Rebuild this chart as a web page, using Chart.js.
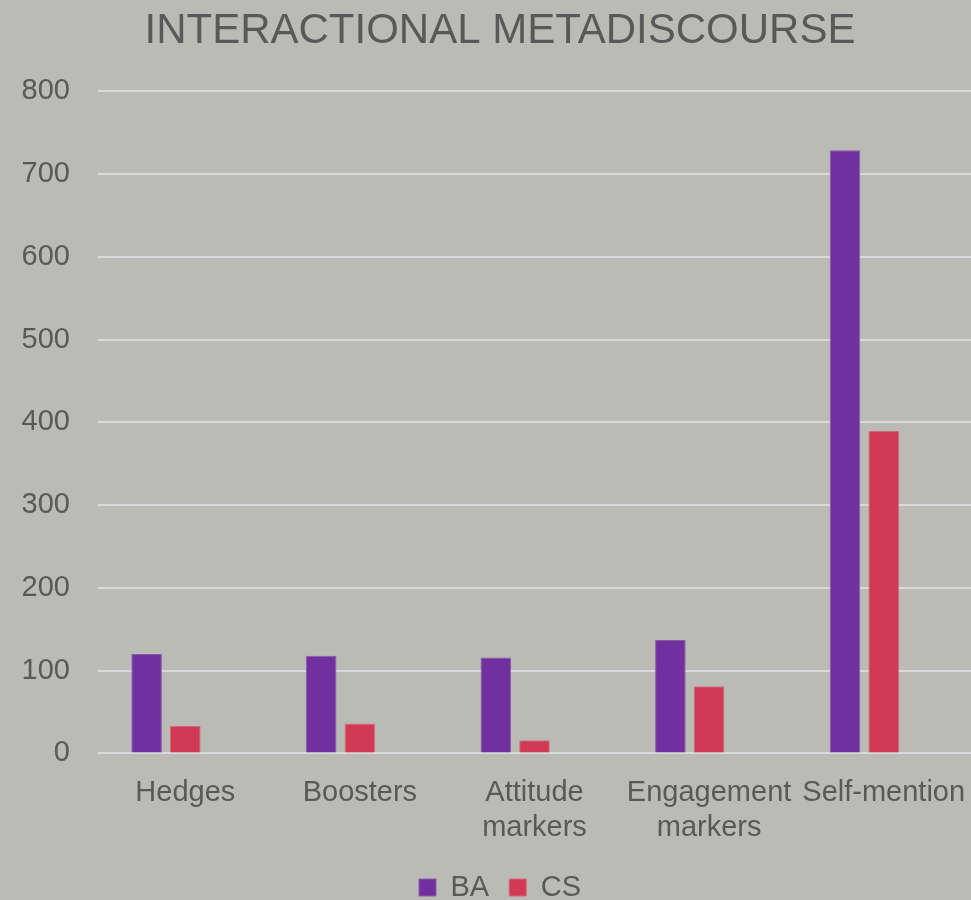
<!DOCTYPE html>
<html>
<head>
<meta charset="utf-8">
<script src="https://cdn.jsdelivr.net/npm/chart.js@4/dist/chart.umd.min.js"></script>
<style>
  html, body { margin: 0; padding: 0; background: #bbbbb6; }
  #wrap { width: 971px; height: 900px; position: relative; }
</style>
</head>
<body>
<div id="wrap"><canvas id="cv"></canvas></div>
<script>
// categories + series
const categories = ['Hedges', 'Boosters', ['Attitude', 'markers'], ['Engagement', 'markers'], 'Self-mention'];
const baValues = [120, 118, 116, 137, 729];
const csValues = [33, 36, 16, 81, 390];
const emptySeries = [null, null, null, null, null]; // third (blank) series keeps the gap on the right
const yTicks = [0, 100, 200, 300, 400, 500, 600, 700, 800];

const TXT = '#595959';
const FONT = "'Liberation Sans', Arial, sans-serif";

new Chart(document.getElementById('cv').getContext('2d'), {
  type: 'bar',
  data: {
    labels: categories,
    datasets: [
      { label: 'BA', data: baValues, backgroundColor: '#7030a0', borderColor: '#8a5aa8', borderWidth: 1 },
      { label: 'CS', data: csValues, backgroundColor: '#d13a55', borderColor: '#d4687a', borderWidth: 1 },
      { label: '', data: emptySeries, backgroundColor: 'rgba(0,0,0,0)' },
    ],
  },
  options: {
    responsive: true,
    maintainAspectRatio: false,
    animation: false,
    datasets: { bar: { categoryPercentage: 0.665, barPercentage: 0.79 } },
    layout: { padding: { left: 26, right: -3, top: 0, bottom: -12 } },
    plugins: {
      title: {
        display: true, text: 'INTERACTIONAL METADISCOURSE', color: TXT,
        font: { family: "'Liberation Sans Narrow', 'Liberation Sans', sans-serif", size: 42, weight: 'normal' },
        padding: { top: 6, bottom: 35 },
      },
      legend: {
        position: 'bottom',
        labels: {
          color: TXT, boxWidth: 17, boxHeight: 17, padding: 20,
          font: { family: FONT, size: 29 },
          filter: (item) => item.text !== '',
        },
      },
      tooltip: { enabled: false },
    },
    scales: {
      x: {
        grid: { display: false },
        border: { display: false },
        afterFit: (s) => { s.paddingRight = 0; s.paddingLeft = 0; s.height -= 6; },
        ticks: { color: TXT, font: { family: FONT, size: 29 }, padding: 14, maxRotation: 0, autoSkip: false },
      },
      y: {
        min: 0, max: 800,
        // labels hang into the left padding, so don't clip them to the axis box
        afterFit: (s) => { s.width = 72; s._computeLabelArea = () => null; },
        afterBuildTicks: (s) => { s.ticks = yTicks.map((v) => ({ value: v })); },
        grid: { color: '#d9d9d9', lineWidth: 2, drawTicks: false },
        border: { display: false },
        ticks: { color: TXT, font: { family: FONT, size: 29 }, padding: 28 },
      },
    },
  },
});
</script>
</body>
</html>
